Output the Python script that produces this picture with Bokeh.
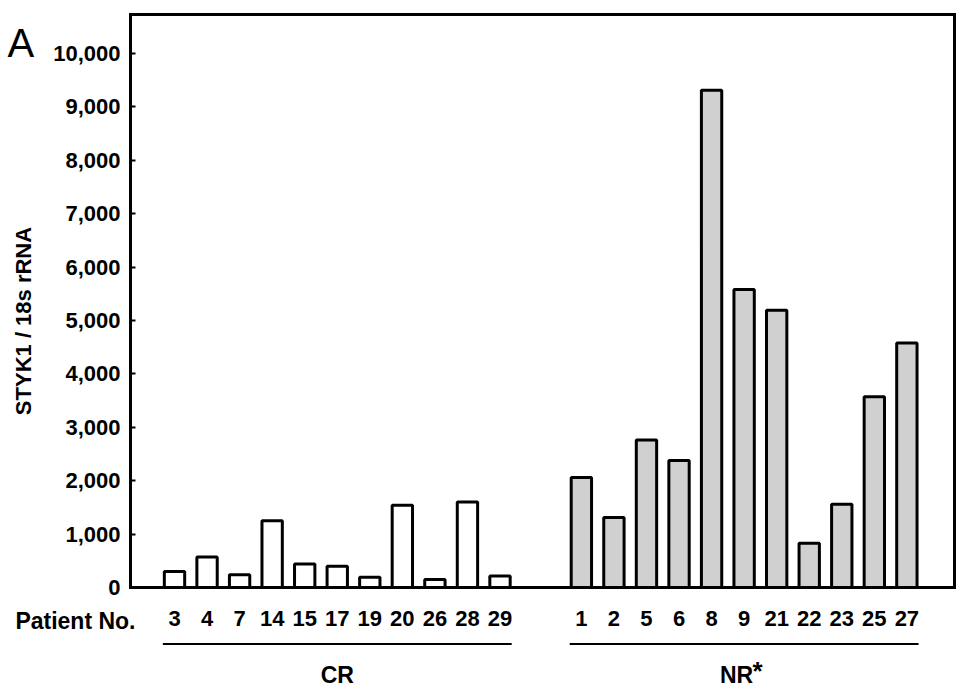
import math
from bokeh.plotting import figure
from bokeh.models import Range1d, FixedTicker, NumeralTickFormatter, Label, LinearAxis
from bokeh.embed import file_html
from bokeh.resources import INLINE

# ---- data ----
cr_patients = ["3", "4", "7", "14", "15", "17", "19", "20", "26", "28", "29"]
cr_values = [300, 570, 240, 1250, 440, 400, 190, 1540, 150, 1600, 215]
nr_patients = ["1", "2", "5", "6", "8", "9", "21", "22", "23", "25", "27"]
nr_values = [2060, 1310, 2760, 2380, 9310, 5580, 5190, 830, 1560, 3570, 4580]
y_ticks = [0, 1000, 2000, 3000, 4000, 5000, 6000, 7000, 8000, 9000, 10000]
group_names = ["CR", "NR"]
group_mark = "*"
y_title = "STYK1 / 18s rRNA"
row_title = "Patient No."
panel_letter = "A"

# ---- layout (pixels on the canvas) ----
W, H = 961, 688
GAP = 1.5            # extra slots between the two groups
BAR_W = 0.625        # in slots
PX_PER_SLOT = 32.55
PX_PER_UNIT = 573 / 10730.0
FIRST_BAR_PX = 174   # centre of first bar
ZERO_PY = 587        # baseline
BOX_L, BOX_R, BOX_T = 130, 954, 14

X_START = -FIRST_BAR_PX / PX_PER_SLOT
X_END = X_START + W / PX_PER_SLOT
Y_END = ZERO_PY / PX_PER_UNIT
Y_START = -(H - ZERO_PY) / PX_PER_UNIT

def px_to_x(px):
    return X_START + px / PX_PER_SLOT

def py_to_y(py):
    return (ZERO_PY - py) / PX_PER_UNIT

cr_x = [float(i) for i in range(len(cr_patients))]
nr_x = [len(cr_patients) + GAP + i for i in range(len(nr_patients))]

FONT = "Liberation Sans"
FS = "22px"

p = figure(width=W, height=H, output_backend="svg", toolbar_location=None,
           x_range=Range1d(X_START, X_END), y_range=Range1d(Y_START, Y_END),
           min_border=0, min_border_left=0, min_border_right=0,
           min_border_top=0, min_border_bottom=0)
p.grid.visible = False
p.background_fill_color = "white"
p.border_fill_color = "white"
p.outline_line_color = None

p.vbar(x=cr_x, top=cr_values, bottom=0, width=BAR_W, fill_color="white",
       line_color="black", line_width=3)
p.vbar(x=nr_x, top=nr_values, bottom=0, width=BAR_W, fill_color="#d0d0d0",
       line_color="black", line_width=3)

box_top = py_to_y(BOX_T)
x_left, x_right = px_to_x(BOX_L), px_to_x(BOX_R)

# y axis (left edge of the box)
ya = p.yaxis[0]
ya.fixed_location = x_left
ya.bounds = (0, box_top)
ya.ticker = FixedTicker(ticks=y_ticks)
ya.formatter = NumeralTickFormatter(format="0,0")
ya.axis_line_width = 3
ya.axis_line_color = "black"
ya.axis_line_cap = "square"
ya.major_tick_in = 5
ya.major_tick_out = 0
ya.major_tick_line_width = 2
ya.minor_tick_line_color = None
ya.major_label_standoff = 10
ya.major_label_text_font = FONT
ya.major_label_text_font_style = "bold"
ya.major_label_text_font_size = FS
ya.major_label_text_color = "black"

# x axis (bottom edge of the box) with patient numbers
xa = p.xaxis[0]
all_x = cr_x + nr_x
xa.fixed_location = 0
xa.bounds = (x_left, x_right)
xa.ticker = FixedTicker(ticks=all_x)
xa.major_label_overrides = {x: s for x, s in zip(all_x, cr_patients + nr_patients)}
xa.axis_line_width = 3
xa.axis_line_color = "black"
xa.axis_line_cap = "square"
xa.major_tick_line_color = None
xa.minor_tick_line_color = None
xa.major_tick_out = 0
xa.major_tick_in = 0
xa.major_label_standoff = 23
xa.major_label_text_font = FONT
xa.major_label_text_font_style = "bold"
xa.major_label_text_font_size = FS
xa.major_label_text_color = "black"

# top and right edges of the box
top_ax = LinearAxis(fixed_location=box_top, bounds=(x_left, x_right),
                    ticker=FixedTicker(ticks=[]), axis_line_width=3, axis_line_color="black",
                    axis_line_cap="square", major_tick_line_color=None,
                    minor_tick_line_color=None, major_label_text_font_size="0px")
p.add_layout(top_ax, "above")
right_ax = LinearAxis(fixed_location=x_right, bounds=(0, box_top),
                      ticker=FixedTicker(ticks=[]), axis_line_width=3, axis_line_color="black",
                      axis_line_cap="square", major_tick_line_color=None,
                      minor_tick_line_color=None, major_label_text_font_size="0px")
p.add_layout(right_ax, "right")

# row title
p.add_layout(Label(x=px_to_x(135), y=py_to_y(620), text=row_title, text_align="right",
                   text_baseline="middle", text_font=FONT, text_font_style="bold",
                   text_font_size="23px", text_color="black"))

# y title
p.add_layout(Label(x=px_to_x(22.5), y=py_to_y(320.5), text=y_title, angle=math.pi / 2,
                   text_align="center", text_baseline="middle", text_font=FONT,
                   text_font_style="bold", text_font_size=FS, text_color="black"))

# panel letter
p.add_layout(Label(x=px_to_x(7), y=py_to_y(42), text=panel_letter, text_align="left",
                   text_baseline="alphabetic", text_font=FONT, text_font_size="40px",
                   text_color="black"))

# group underlines and names
y_line = py_to_y(643.5)
y_name = py_to_y(674)
half = BAR_W / 2 + 1.5 / PX_PER_SLOT
groups = [cr_x, nr_x]
p.segment(x0=[g[0] - half for g in groups], y0=[y_line] * 2,
          x1=[g[-1] + half for g in groups], y1=[y_line] * 2,
          line_color="black", line_width=2)
for xs, name in zip(groups, group_names):
    cx = (xs[0] + xs[-1]) / 2
    if name == "NR":
        p.add_layout(Label(x=px_to_x(736), y=y_name, text=name, text_align="center",
                           text_baseline="middle", text_font=FONT, text_font_style="bold",
                           text_font_size="23px", text_color="black"))
        p.add_layout(Label(x=px_to_x(752), y=py_to_y(670), text=group_mark, text_align="left",
                           text_baseline="middle", text_font=FONT, text_font_style="bold",
                           text_font_size="26px", text_color="black"))
    else:
        p.add_layout(Label(x=cx, y=y_name, text=name, text_align="center",
                           text_baseline="middle", text_font=FONT, text_font_style="bold",
                           text_font_size="23px", text_color="black"))

open("out.html", "w").write(file_html(p, INLINE))
